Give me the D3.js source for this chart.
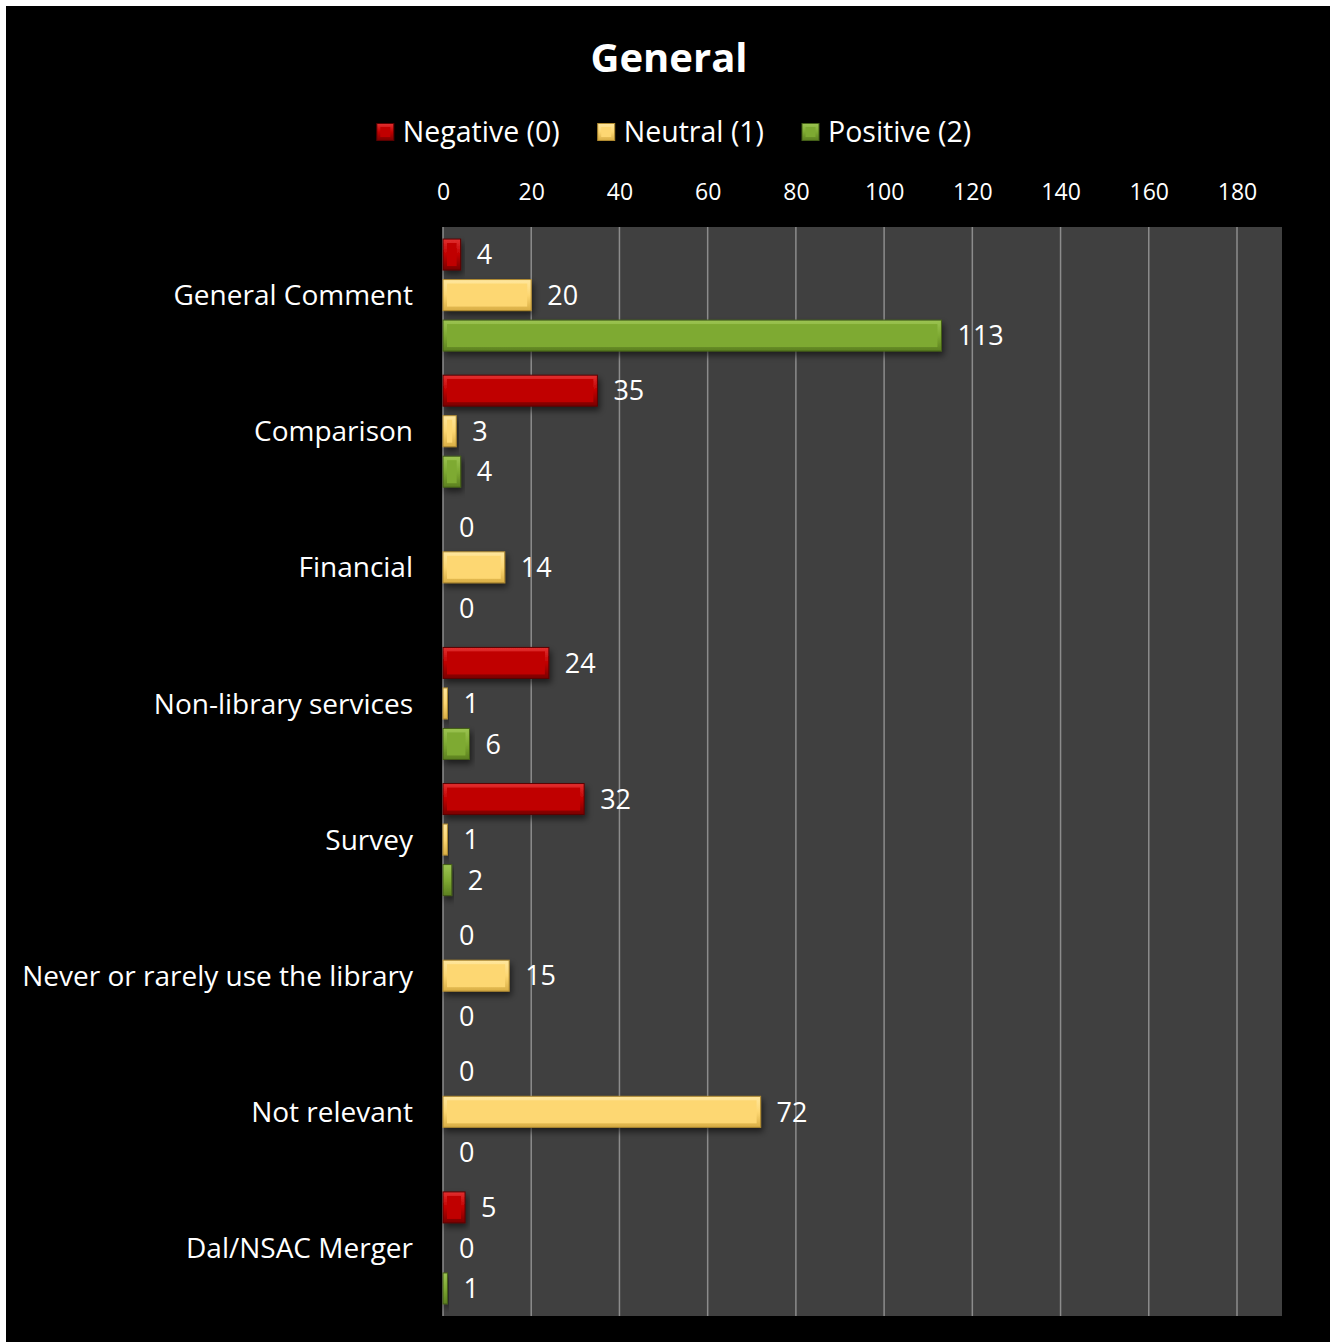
<!DOCTYPE html>
<html>
<head>
<meta charset="utf-8">
<script src="https://cdn.jsdelivr.net/npm/d3@7"></script>
<style>
  html, body { margin: 0; padding: 0; background: #ffffff; }
  svg { display: block; }
  text { font-family: "Open Sans", Lato, sans-serif; fill: #ffffff; }
</style>
</head>
<body>
<svg id="chart" width="1330" height="1342"></svg>
<script>
// Comment categories, top to bottom
const categories = [
  "General Comment",
  "Comparison",
  "Financial",
  "Non-library services",
  "Survey",
  "Never or rarely use the library",
  "Not relevant",
  "Dal/NSAC Merger"
];

// Counts per sentiment
const negative = [4, 35, 0, 24, 32, 0, 0, 5];
const neutral  = [20, 3, 14, 1, 1, 15, 72, 0];
const positive = [113, 4, 0, 6, 2, 0, 0, 1];

const seriesNames = ["Negative (0)", "Neutral (1)", "Positive (2)"];
const xTicks = [0, 20, 40, 60, 80, 100, 120, 140, 160, 180];

const seriesValues = [negative, neutral, positive];
const palette = [
  { base: "#C00000", light: "#E23030", dark: "#7A0000", line: "#5A0000" },
  { base: "#FDD772", light: "#FFE79E", dark: "#D9AE45", line: "#B08A30" },
  { base: "#7EAA32", light: "#9CC452", dark: "#5C8020", line: "#445F18" }
];

const FONT = "'Open Sans', Lato, sans-serif";
const svg = d3.select("#chart");
const W = 1330, H = 1342;

// Black chart background inside a thin white frame
svg.append("rect").attr("x", 6).attr("y", 6).attr("width", W - 6).attr("height", H - 6).attr("fill", "#000");

const plot = { left: 443, right: 1282, top: 227, bottom: 1316 };

const x = d3.scaleLinear().domain([0, 190]).range([plot.left, plot.left + 190 * (1237 - 443) / 180]);

const y0 = d3.scaleBand().domain(categories).range([plot.top, plot.bottom]).paddingInner(0.177).paddingOuter(0.0885);
const y1 = d3.scaleBand().domain(seriesNames).range([0, y0.bandwidth()]).paddingInner(0.235);

const defs = svg.append("defs");
palette.forEach((p, i) => {
  const g = defs.append("linearGradient").attr("id", "bevel" + i).attr("x1", 0).attr("y1", 0).attr("x2", 0).attr("y2", 1);
  g.append("stop").attr("offset", "0%").attr("stop-color", p.light);
  g.append("stop").attr("offset", "50%").attr("stop-color", p.base);
  g.append("stop").attr("offset", "100%").attr("stop-color", p.dark);
});
const shadow = defs.append("filter").attr("id", "shadow").attr("x", "-10%").attr("y", "-30%").attr("width", "130%").attr("height", "180%");
shadow.append("feDropShadow").attr("dx", 2).attr("dy", 4).attr("stdDeviation", 3).attr("flood-color", "#000").attr("flood-opacity", 0.55);

// Plot background
svg.append("rect")
  .attr("x", plot.left).attr("y", plot.top)
  .attr("width", plot.right - plot.left).attr("height", plot.bottom - plot.top)
  .attr("fill", "#404040");

// Vertical gridlines
svg.append("g").selectAll("line").data(xTicks).join("line")
  .attr("x1", d => x(d)).attr("x2", d => x(d))
  .attr("y1", plot.top).attr("y2", plot.bottom)
  .attr("stroke", "#8C8C8C").attr("stroke-width", 1.5);

// Top axis tick labels
const xAxis = d3.axisTop(x).tickValues(xTicks).tickSize(0).tickPadding(0);
const xg = svg.append("g").attr("transform", `translate(0,${192})`).call(xAxis);
xg.select(".domain").remove();
xg.selectAll("text")
  .attr("font-size", 23).attr("fill", "#fff").attr("dy", "0.35em")
  .style("font-family", FONT);

// Category labels
const yAxis = d3.axisLeft(y0).tickSize(0).tickPadding(0);
const yg = svg.append("g").attr("transform", `translate(${413},0)`).call(yAxis);
yg.select(".domain").remove();
yg.selectAll("text")
  .attr("font-size", 28).attr("fill", "#fff").attr("dy", "0.36em")
  .style("font-family", FONT);

// Bars
const rows = [];
categories.forEach((c, ci) => {
  seriesNames.forEach((s, si) => {
    rows.push({ cat: c, series: s, si, value: seriesValues[si][ci] });
  });
});

const barG = svg.append("g");
const bars = barG.selectAll("g.bar").data(rows.filter(d => d.value > 0)).join("g")
  .attr("class", "bar")
  .attr("filter", "url(#shadow)");

bars.append("rect")
  .attr("x", x(0))
  .attr("y", d => y0(d.cat) + y1(d.series))
  .attr("width", d => x(d.value) - x(0))
  .attr("height", y1.bandwidth())
  .attr("fill", d => `url(#bevel${d.si})`)
  .attr("stroke", d => palette[d.si].line)
  .attr("stroke-width", 1);

// Flat face of the bevel
bars.filter(d => x(d.value) - x(0) > 10).append("rect")
  .attr("x", x(0) + 4)
  .attr("y", d => y0(d.cat) + y1(d.series) + 4)
  .attr("width", d => x(d.value) - x(0) - 8)
  .attr("height", y1.bandwidth() - 8)
  .attr("fill", d => palette[d.si].base);

// Value labels
svg.append("g").selectAll("text").data(rows).join("text")
  .attr("x", d => x(d.value) + 16)
  .attr("y", d => y0(d.cat) + y1(d.series) + y1.bandwidth() / 2)
  .attr("dy", "0.36em")
  .attr("font-size", 27)
  .text(d => d.value);

// Title
svg.append("text")
  .attr("x", 669).attr("y", 72)
  .attr("text-anchor", "middle")
  .attr("font-size", 40).attr("font-weight", "bold")
  .text("General");

// Legend
const legend = svg.append("g");
let lx = 0;
seriesNames.forEach((s, i) => {
  const item = legend.append("g").attr("transform", `translate(${lx},0)`);
  item.append("rect").attr("x", 0).attr("y", -8.5).attr("width", 17).attr("height", 17)
    .attr("fill", `url(#bevel${i})`).attr("stroke", palette[i].line).attr("stroke-width", 1);
  item.append("rect").attr("x", 3.5).attr("y", -5).attr("width", 10).attr("height", 10).attr("fill", palette[i].base);
  const t = item.append("text").attr("x", 26).attr("y", 0).attr("dy", "0.36em").attr("font-size", 28.5).text(s);
  lx += 26 + t.node().getComputedTextLength() + 38;
});
const legendWidth = lx - 38;
legend.attr("transform", `translate(${674 - legendWidth / 2},132)`);
</script>
</body>
</html>
